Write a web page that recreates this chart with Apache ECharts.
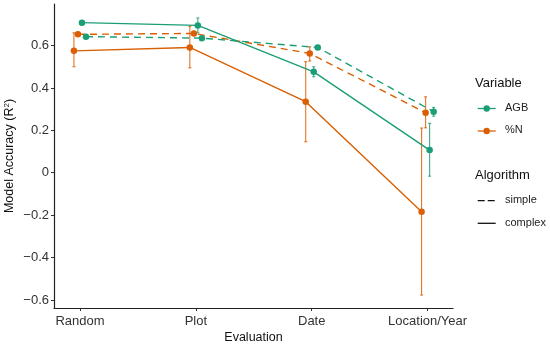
<!DOCTYPE html>
<html>
<head>
<meta charset="utf-8">
<script src="https://cdn.jsdelivr.net/npm/echarts@6/dist/echarts.min.js"></script>
<style>html,body{margin:0;padding:0;background:#fff}#c{width:550px;height:346px}</style>
</head>
<body>
<div id="c"></div>
<script>
const categories = ['Random', 'Plot', 'Date', 'Location/Year'];
const yTicks = [-0.6, -0.4, -0.2, 0, 0.2, 0.4, 0.6];

// values (R²) per group
const agbComplex = [0.708, 0.695, 0.476, 0.107];
const agbComplexLo = [0.698, 0.660, 0.453, -0.016];
const agbComplexHi = [0.718, 0.730, 0.500, 0.233];

const agbSimple = [0.642, 0.635, 0.591, 0.288];
const agbSimpleLo = [0.637, 0.630, 0.585, 0.267];
const agbSimpleHi = [0.647, 0.640, 0.597, 0.308];

const nComplex = [0.575, 0.591, 0.335, -0.184];
const nComplexLo = [0.500, 0.495, 0.146, -0.577];
const nComplexHi = [0.660, 0.690, 0.524, 0.211];

const nSimple = [0.653, 0.657, 0.563, 0.283];
const nSimpleLo = [0.648, 0.652, 0.527, 0.212];
const nSimpleHi = [0.658, 0.662, 0.594, 0.358];

const TEAL = '#1b9e77', ORANGE = '#d95f02';
const FONT = '"Liberation Sans", Arial, sans-serif';

const groups = [
  {name: '%N complex', vals: nComplex, lo: nComplexLo, hi: nComplexHi, color: ORANGE, dash: 'solid', off: -0.052},
  {name: '%N simple', vals: nSimple, lo: nSimpleLo, hi: nSimpleHi, color: ORANGE, dash: [7, 5], off: -0.0172},
  {name: 'AGB complex', vals: agbComplex, lo: agbComplexLo, hi: agbComplexHi, color: TEAL, dash: 'solid', off: 0.0172},
  {name: 'AGB simple', vals: agbSimple, lo: agbSimpleLo, hi: agbSimpleHi, color: TEAL, dash: [7, 5], off: 0.052}
];

const series = [];
groups.forEach(g => {
  series.push({
    type: 'custom',
    name: g.name + ' err',
    z: 2,
    data: g.vals.map((v, i) => [i + 1 + g.off, g.lo[i], g.hi[i]]),
    renderItem: (params, api) => {
      const x = api.value(0);
      const p1 = api.coord([x, api.value(1)]);
      const p2 = api.coord([x, api.value(2)]);
      const st = {stroke: g.color, lineWidth: 1.1, opacity: 0.85};
      return {type: 'group', children: [
        {type: 'line', shape: {x1: p1[0], y1: p1[1], x2: p2[0], y2: p2[1]}, style: st},
        {type: 'line', shape: {x1: p1[0] - 1.5, y1: p1[1], x2: p1[0] + 1.5, y2: p1[1]}, style: st},
        {type: 'line', shape: {x1: p2[0] - 1.5, y1: p2[1], x2: p2[0] + 1.5, y2: p2[1]}, style: st}
      ]};
    },
    silent: true
  });
  series.push({
    type: 'line',
    name: g.name,
    z: 3,
    data: g.vals.map((v, i) => [i + 1 + g.off, v]),
    symbol: 'circle',
    symbolSize: 6.5,
    showSymbol: true,
    itemStyle: {color: g.color},
    lineStyle: {color: g.color, width: 1.4, type: g.dash},
    animation: false
  });
});

function fmtY(v) {
  if (Math.abs(v) < 1e-9) return '0';
  return v.toFixed(1).replace('-', '\u2212');
}

const LX = 477.7, LX2 = 495.7, TX = 505;
const graphic = [
  {type: 'text', left: 475, top: 77, style: {text: 'Variable', font: '13px ' + FONT, fill: '#111'}},
  {type: 'line', shape: {x1: LX, y1: 108.5, x2: LX2, y2: 108.5}, style: {stroke: TEAL, lineWidth: 1.3}},
  {type: 'circle', shape: {cx: 486.7, cy: 108.5, r: 3.2}, style: {fill: TEAL}},
  {type: 'text', left: TX, top: 102, style: {text: 'AGB', font: '11px ' + FONT, fill: '#222'}},
  {type: 'line', shape: {x1: LX, y1: 131, x2: LX2, y2: 131}, style: {stroke: ORANGE, lineWidth: 1.3}},
  {type: 'circle', shape: {cx: 486.7, cy: 131, r: 3.2}, style: {fill: ORANGE}},
  {type: 'text', left: TX, top: 124.5, style: {text: '%N', font: '11px ' + FONT, fill: '#222'}},
  {type: 'text', left: 475, top: 169, style: {text: 'Algorithm', font: '13px ' + FONT, fill: '#111'}},
  {type: 'line', shape: {x1: LX, y1: 200.7, x2: LX2, y2: 200.7}, style: {stroke: '#111', lineWidth: 1.3, lineDash: [7, 3]}},
  {type: 'text', left: TX, top: 194.5, style: {text: 'simple', font: '11px ' + FONT, fill: '#222'}},
  {type: 'line', shape: {x1: LX, y1: 223.3, x2: LX2, y2: 223.3}, style: {stroke: '#111', lineWidth: 1.3}},
  {type: 'text', left: TX, top: 217, style: {text: 'complex', font: '11px ' + FONT, fill: '#222'}}
];

const chart = echarts.init(document.getElementById('c'), null, {renderer: 'canvas'});
chart.setOption({
  animation: false,
  backgroundColor: '#fff',
  grid: {left: 54, right: 97, top: 4, bottom: 38, containLabel: false, outerBoundsMode: 'none'},
  xAxis: {
    type: 'value',
    min: 0.776, max: 4.219,
    splitLine: {show: false},
    axisLine: {show: true, onZero: false, lineStyle: {color: '#222', width: 1.2}},
    axisTick: {show: true, length: 3, customValues: [1, 2, 3, 4], lineStyle: {color: '#333', width: 1}},
    axisLabel: {customValues: [1, 2, 3, 4], formatter: v => categories[Math.round(v) - 1], color: '#333', fontSize: 13, margin: 7, fontFamily: FONT},
    name: 'Evaluation', nameLocation: 'middle', nameGap: 23, nameMoveOverlap: false,
    nameTextStyle: {color: '#111', fontSize: 12.5, fontFamily: FONT}
  },
  yAxis: {
    type: 'value',
    min: -0.638, max: 0.796,
    splitLine: {show: false},
    axisLine: {show: true, onZero: false, lineStyle: {color: '#222', width: 1.2}},
    axisTick: {show: true, length: 3, customValues: yTicks, lineStyle: {color: '#333', width: 1}},
    axisLabel: {customValues: yTicks, formatter: fmtY, color: '#333', fontSize: 13, margin: 5, fontFamily: FONT},
    name: 'Model Accuracy (R{sup|2})', nameLocation: 'middle', nameGap: 37, nameMoveOverlap: false,
    nameTextStyle: {color: '#111', fontSize: 12.5, fontFamily: FONT,
      rich: {sup: {fontSize: 8, verticalAlign: 'top', padding: [0, 0, 6, 0], color: '#111', fontFamily: FONT}}}
  },
  series: series,
  graphic: graphic
});
</script>
</body>
</html>
